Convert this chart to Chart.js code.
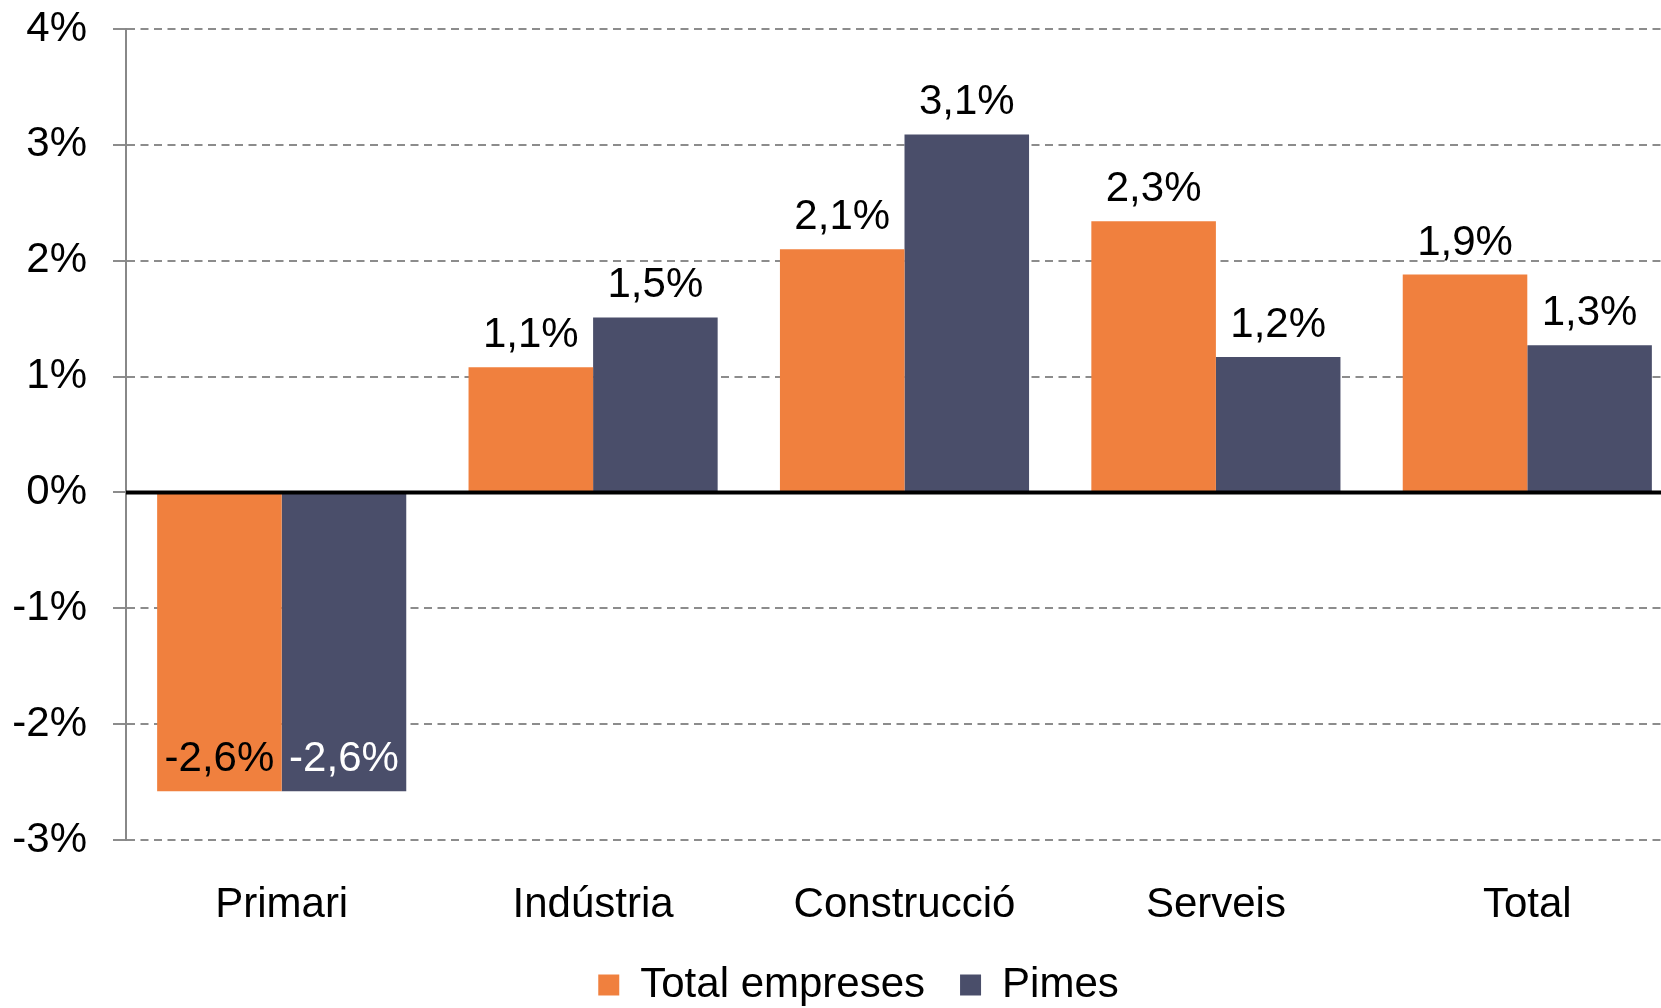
<!DOCTYPE html>
<html>
<head>
<meta charset="utf-8">
<script src="https://cdn.jsdelivr.net/npm/chart.js@4"></script>
<style>
  html, body { margin: 0; padding: 0; background: #fff; overflow: hidden; }
  /* the plot in the original runs a bit past the right edge of the picture */
  #wrap { width: 1683px; height: 1008px; }
</style>
</head>
<body>
<div id="wrap"><canvas id="chart"></canvas></div>
<script>
// ---------------- Data ----------------
const categories = ["Primari", "Indústria", "Construcció", "Serveis", "Total"];
const totalEmpreses = [-2.58, 1.08, 2.10, 2.34, 1.88];
const pimes = [-2.58, 1.51, 3.09, 1.17, 1.27];
const seriesNames = ["Total empreses", "Pimes"];
const yTicks = { min: -3, max: 4, step: 1 };

const ORANGE = "#F0803E";
const NAVY = "#4A4E6A";
const FONT = "'Liberation Sans', Arial, sans-serif";

Chart.defaults.font.family = FONT;
Chart.defaults.color = "#000";

// ---------------- Plugins ----------------
// solid black line at 0 + value labels
const zeroLineAndLabels = {
    id: "zeroLineAndLabels",
    afterDatasetsDraw(chart) {
        const ctx = chart.ctx;
        const y = chart.scales.y;
        const area = chart.chartArea;
        const y0 = y.getPixelForValue(0);
        ctx.save();
        ctx.strokeStyle = "#000";
        ctx.lineWidth = 4;
        ctx.beginPath();
        ctx.moveTo(area.left, y0);
        ctx.lineTo(area.right, y0);
        ctx.stroke();

        ctx.font = "42px " + FONT;
        ctx.textAlign = "center";
        ctx.textBaseline = "alphabetic";
        chart.data.datasets.forEach((ds, di) => {
            const meta = chart.getDatasetMeta(di);
            meta.data.forEach((bar, i) => {
                const v = ds.data[i];
                const txt = v.toFixed(1).replace(".", ",") + "%";
                ctx.fillStyle = (v < 0 && di === 1) ? "#fff" : "#000";
                ctx.fillText(txt, bar.x, bar.y - 20);
            });
        });
        ctx.restore();
    }
};

// nudge the legend a bit to the right, like the original
const legendShift = {
    id: "legendShift",
    afterLayout(chart) {
        if (chart.legend) {
            chart.legend.left += 17;
            chart.legend.right += 17;
        }
    }
};

// ---------------- Chart ----------------
new Chart(document.getElementById("chart"), {
    type: "bar",
    data: {
        labels: categories,
        datasets: [
            { label: seriesNames[0], data: totalEmpreses, backgroundColor: ORANGE },
            { label: seriesNames[1], data: pimes, backgroundColor: NAVY }
        ]
    },
    options: {
        responsive: true,
        maintainAspectRatio: false,
        animation: false,
        datasets: { bar: { categoryPercentage: 0.8, barPercentage: 1 } },
        layout: { padding: { top: 29, left: 0, right: 0, bottom: -8 } },
        plugins: {
            legend: {
                position: "bottom",
                labels: { boxWidth: 21, boxHeight: 21, padding: 35, font: { size: 42 }, color: "#000" }
            },
            tooltip: { enabled: false }
        },
        scales: {
            x: {
                grid: { display: false, drawTicks: false },
                border: { display: false },
                ticks: { font: { size: 42 }, color: "#000", padding: 40 },
                afterFit: s => { s.height = 89; }
            },
            y: {
                min: yTicks.min,
                max: yTicks.max,
                grid: {
                    color: "#8c8c8c",
                    lineWidth: 2,
                    tickLength: 13,
                    tickColor: "#8c8c8c",
                    tickWidth: 2,
                    tickBorderDash: []
                },
                border: { color: "#888", width: 2, dash: [8, 5.5] },
                ticks: {
                    stepSize: yTicks.step,
                    font: { size: 42 },
                    color: "#000",
                    padding: 26,
                    callback: v => v + "%"
                },
                afterFit: s => {
                    s.width = 126;
                    s.paddingTop = 0;
                    s.paddingBottom = 0;
                }
            }
        }
    },
    plugins: [zeroLineAndLabels, legendShift]
});
</script>
</body>
</html>
